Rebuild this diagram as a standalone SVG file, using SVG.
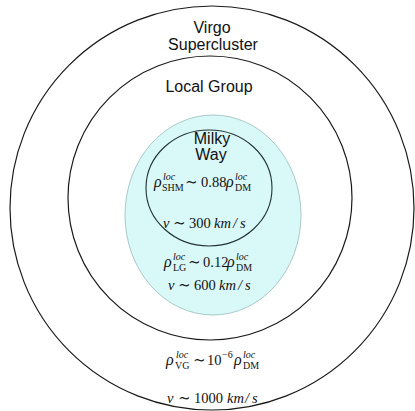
<svg xmlns="http://www.w3.org/2000/svg" width="415" height="411" viewBox="0 0 415 411">
<style>
.ring{fill:none;stroke:#1a1a1a;stroke-width:1.2}
.lbl{font-family:"Liberation Sans",Arial,sans-serif;font-size:16px;fill:#111;text-anchor:middle}
.m{font-family:"Liberation Serif","DejaVu Serif",serif;font-size:14.5px;fill:#111}
.mi{font-style:italic}
.rho{font-family:"Liberation Serif","DejaVu Serif",serif;font-size:16px;font-style:italic;fill:#111}
.sup{font-family:"Liberation Serif","DejaVu Serif",serif;font-size:10px;font-style:italic;fill:#111}
.sub{font-family:"Liberation Serif","DejaVu Serif",serif;font-size:10px;fill:#111}
.op{font-family:"DejaVu Serif",serif;font-size:15px;fill:#111}
</style>
<rect width="415" height="411" fill="#fff"/>
<g id="virgo-supercluster">
<circle class="ring" cx="212" cy="208" r="202"/>
<text class="lbl" x="212" y="33">Virgo</text>
<text class="lbl" x="213" y="50">Supercluster</text>
<text class="rho" x="166" y="365">ρ</text>
<text class="sup" x="176" y="358">loc</text>
<text class="sub" x="175" y="369">VG</text>
<text class="op" x="193" y="365">∼</text>
<text class="m" x="207" y="365">10</text>
<text class="sub" x="222" y="358">−6</text>
<text class="rho" x="234" y="365">ρ</text>
<text class="sup" x="243" y="358">loc</text>
<text class="sub" x="243" y="369">DM</text>
<text class="m mi" x="167" y="403">v</text>
<text class="op" x="178" y="403">∼</text>
<text class="m" x="194" y="403">1000</text>
<text class="m mi" x="227" y="403">km</text>
<text class="m mi" x="245" y="403">/</text>
<text class="m mi" x="252" y="403">s</text>
</g>
<g id="local-group">
<circle class="ring" cx="210" cy="198" r="142"/>
<text class="lbl" x="209" y="92">Local Group</text>
<ellipse cx="213" cy="215" rx="88" ry="100" fill="#d9f8f8" stroke="#a9c9c9" stroke-width="1"/>
<text class="rho" x="164" y="267">ρ</text>
<text class="sup" x="173" y="260">loc</text>
<text class="sub" x="173" y="271">LG</text>
<text class="op" x="188" y="267">∼</text>
<text class="m" x="203" y="267">0.12</text>
<text class="rho" x="227" y="267">ρ</text>
<text class="sup" x="236" y="260">loc</text>
<text class="sub" x="236" y="271">DM</text>
<text class="m mi" x="168" y="290">v</text>
<text class="op" x="178" y="290">∼</text>
<text class="m" x="194" y="290">600</text>
<text class="m mi" x="219" y="290">km</text>
<text class="m mi" x="238" y="290">/</text>
<text class="m mi" x="245" y="290">s</text>
</g>
<g id="milky-way">
<ellipse cx="209" cy="188" rx="63" ry="58" fill="none" stroke="#223333" stroke-width="1.1"/>
<text class="lbl" x="212" y="144">Milky</text>
<text class="lbl" x="211" y="160">Way</text>
<text class="rho" x="154" y="187">ρ</text>
<text class="sup" x="163" y="180">loc</text>
<text class="sub" x="162" y="191">SHM</text>
<text class="op" x="185" y="187">∼</text>
<text class="m" x="201" y="187">0.88</text>
<text class="rho" x="226" y="187">ρ</text>
<text class="sup" x="235" y="180">loc</text>
<text class="sub" x="235" y="191">DM</text>
<text class="m mi" x="163" y="228">v</text>
<text class="op" x="173" y="228">∼</text>
<text class="m" x="189" y="228">300</text>
<text class="m mi" x="214" y="228">km</text>
<text class="m mi" x="233" y="228">/</text>
<text class="m mi" x="240" y="228">s</text>
</g>
<g id="connectors"></g>
</svg>
